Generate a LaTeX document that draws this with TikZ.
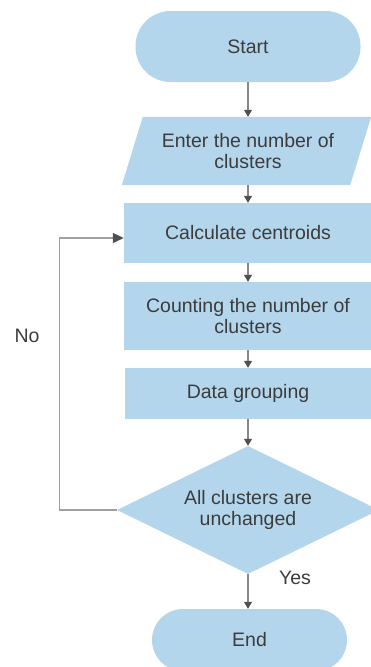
\documentclass[tikz,border=0pt]{standalone}
\usepackage{fontspec}
\setmainfont{Liberation Sans}
\usetikzlibrary{arrows.meta,shapes.geometric,calc,backgrounds}
\definecolor{boxfill}{RGB}{180,214,237}
\definecolor{txt}{RGB}{60,60,60}
\definecolor{lin}{RGB}{135,135,135}
\definecolor{loopc}{RGB}{160,160,160}
\definecolor{tipc}{RGB}{80,80,80}
\begin{document}
\begin{tikzpicture}[x=1pt,y=-1pt,
  every node/.style={font=\fontsize{19.5}{21}\selectfont, text=txt, align=center, inner sep=0pt},
  blk/.style={fill=boxfill, draw=none},
  flow/.style={draw=lin, line width=1.2pt, -{Triangle[width=8pt,length=7pt,color=tipc]}},
  loopflow/.style={draw=loopc, line width=1.2pt, -{Triangle[width=10pt,length=11pt,color=tipc]}},
]
\useasboundingbox (0,0) rectangle (371,667);
\clip (0,0) rectangle (371,667);

\node[blk, rounded corners=35pt, minimum width=225pt, minimum height=71pt] (start) at (248,46.5) {Start};
\node[draw=none, minimum width=249pt, minimum height=68pt] (enter) at (246.5,151) {\hspace*{3pt}Enter the number of\\\hspace*{3pt}clusters};
\begin{scope}[on background layer]
\fill[boxfill] ($(enter.north west)+(21,0)$) -- (enter.north east) -- ($(enter.south east)+(-21,0)$) -- (enter.south west) -- cycle;
\end{scope}
\node[blk, minimum width=248pt, minimum height=60pt] (calc) at (248,233) {Calculate centroids};
\node[blk, minimum width=248pt, minimum height=68pt] (count) at (248,316) {Counting the number of\\clusters};
\node[blk, minimum width=246pt, minimum height=51pt] (data) at (248,393.5) {Data grouping};
\node[blk, diamond, aspect=2.05, minimum width=262pt, minimum height=128pt] (dec) at (248,510) {All clusters are\\unchanged};
\node[blk, rounded corners=31pt, minimum width=195pt, minimum height=62pt] (end) at (249.5,640) {End};

\node (no) at (27,336) {No};
\node (yes) at (295,578) {Yes};

\draw[flow] (start.south) -- (start.south |- enter.north);
\draw[flow] (start.south |- enter.south) -- (calc.north);
\draw[flow] (calc) -- (count);
\draw[flow] (count) -- (data);
\draw[flow] (data) -- (dec);
\draw[flow] (dec.south) -- (dec.south |- end.north);
\draw[loopflow] (dec.west) -- ++(-57,0) |- ($(calc.west)+(0,5)$);
\end{tikzpicture}
\end{document}
